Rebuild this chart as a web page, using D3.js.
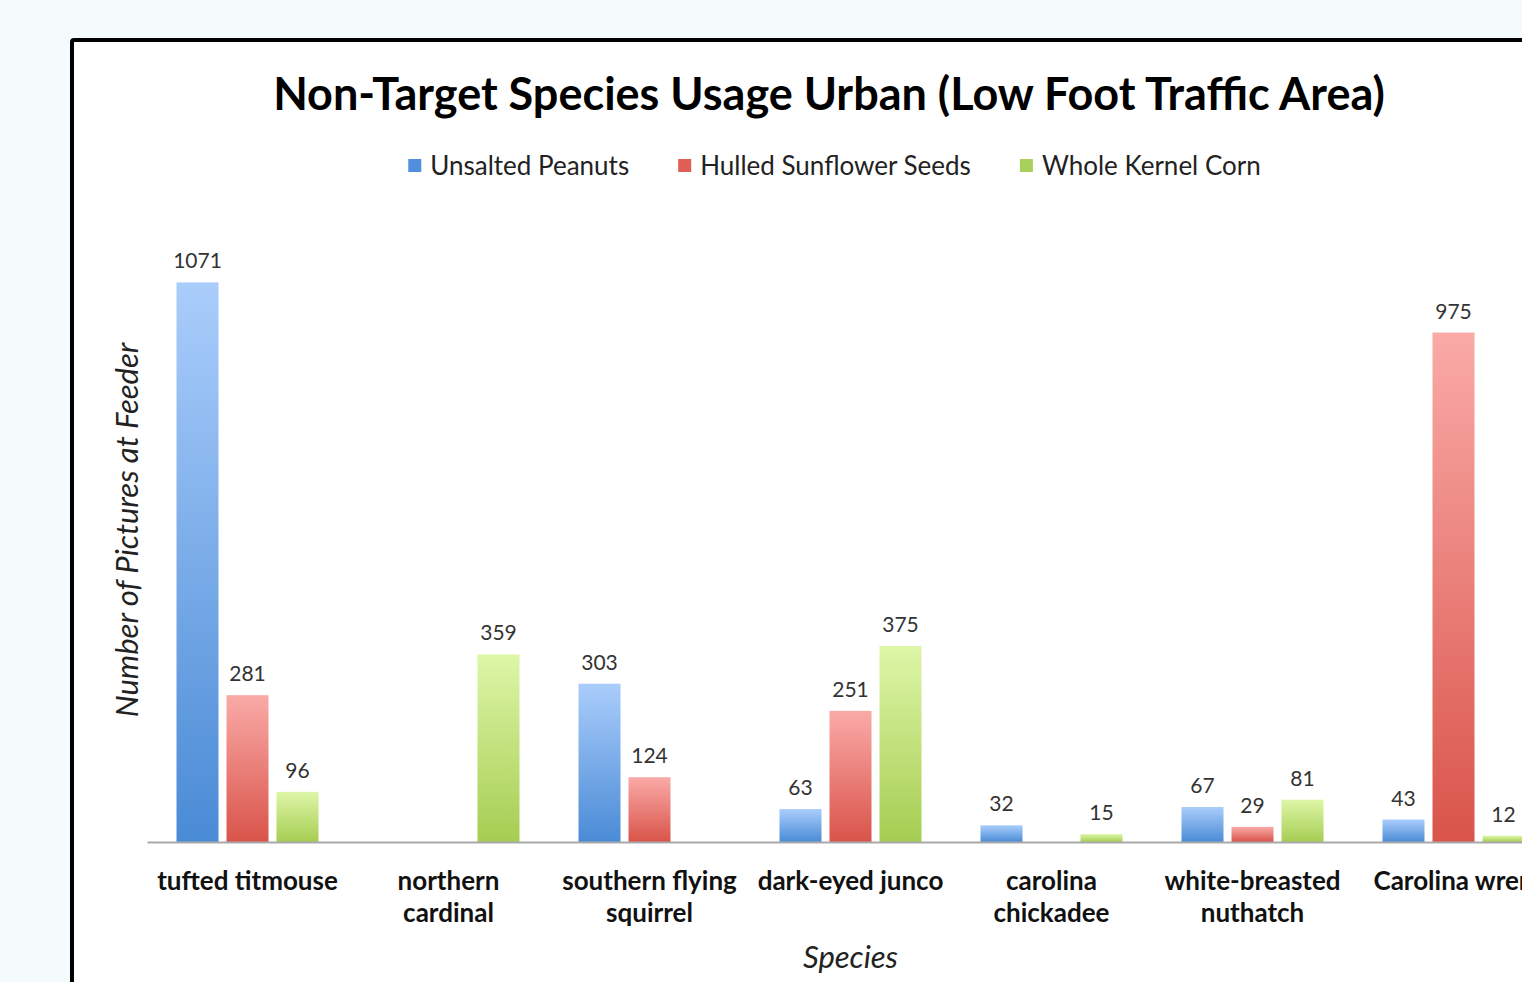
<!DOCTYPE html>
<html>
<head>
<meta charset="utf-8">
<script src="https://cdn.jsdelivr.net/npm/d3@7"></script>
<style>
  html, body { margin: 0; padding: 0; background: #f5fafd; overflow: hidden; }
  svg { display: block; }
</style>
</head>
<body>
<svg id="chart" width="1522" height="982"></svg>
<script>
// ---- data ----
const categories = [
  ["tufted titmouse"],
  ["northern", "cardinal"],
  ["southern flying", "squirrel"],
  ["dark-eyed junco"],
  ["carolina", "chickadee"],
  ["white-breasted", "nuthatch"],
  ["Carolina wren"]
];
const seriesNames = ["Unsalted Peanuts", "Hulled Sunflower Seeds", "Whole Kernel Corn"];
const unsaltedPeanuts = [1071, null, 303, 63, 32, 67, 43];
const hulledSunflowerSeeds = [281, null, 124, 251, null, 29, 975];
const wholeKernelCorn = [96, 359, null, 375, 15, 81, 12];
const seriesValues = [unsaltedPeanuts, hulledSunflowerSeeds, wholeKernelCorn];

const titleText = "Non-Target Species Usage Urban (Low Foot Traffic Area)";
const xTitle = "Species";
const yTitle = "Number of Pictures at Feeder";

// ---- styles ----
const gradStops = [
  ["#aacdfb", "#4a8bd6"],
  ["#faaaa7", "#d9544a"],
  ["#def6a8", "#a6cd52"]
];
const legendColors = ["#4f8fdb", "#df5e55", "#a9d05a"];
const FONT = "Lato, 'Open Sans', sans-serif";

const svg = d3.select("#chart");
const defs = svg.append("defs");
gradStops.forEach((s, i) => {
  const g = defs.append("linearGradient").attr("id", "g" + i)
    .attr("x1", 0).attr("y1", 0).attr("x2", 0).attr("y2", 1);
  g.append("stop").attr("offset", "0%").attr("stop-color", s[0]);
  g.append("stop").attr("offset", "100%").attr("stop-color", s[1]);
});

// frame
svg.append("rect").attr("x", 72).attr("y", 40).attr("width", 1600).attr("height", 1000)
  .attr("rx", 2).attr("fill", "#ffffff").attr("stroke", "#000").attr("stroke-width", 4);

// layout
const plotLeft = 147, plotRight = 1554, baseY = 842, topY = 215;

const x0 = d3.scaleBand().domain(d3.range(categories.length))
  .range([plotLeft, plotRight]).paddingInner(0.2935).paddingOuter(0.14675);
const x1 = d3.scaleBand().domain(d3.range(seriesNames.length))
  .range([0, x0.bandwidth()]).paddingInner(0.16);
const y = d3.scaleLinear().domain([0, 1200]).range([baseY, topY]);

// bars
const groups = svg.append("g").selectAll("g").data(categories).join("g")
  .attr("transform", (d, i) => `translate(${x0(i)},0)`);

groups.each(function (cat, ci) {
  const g = d3.select(this);
  const vals = seriesValues.map((arr, si) => ({ si, v: arr[ci] })).filter(d => d.v != null);
  g.selectAll("rect").data(vals).join("rect")
    .attr("x", d => x1(d.si))
    .attr("width", x1.bandwidth())
    .attr("y", d => y(d.v))
    .attr("height", d => baseY - y(d.v))
    .attr("fill", d => `url(#g${d.si})`);
  g.selectAll("text").data(vals).join("text")
    .attr("x", d => x1(d.si) + x1.bandwidth() / 2)
    .attr("y", d => y(d.v) - 14)
    .attr("text-anchor", "middle")
    .attr("font-family", FONT).attr("font-size", 21).attr("fill", "#333")
    .text(d => d.v);
});

// x axis
const xAxis = d3.axisBottom(x0).tickSize(0).tickFormat("");
const axG = svg.append("g").attr("transform", `translate(0,${baseY})`).call(xAxis);
axG.select(".domain").attr("stroke", "#a9a9a9").attr("stroke-width", 2);

// category labels
svg.append("g").selectAll("text").data(categories).join("text")
  .attr("x", (d, i) => x0(i) + x0.bandwidth() / 2)
  .attr("y", 890)
  .attr("text-anchor", "middle")
  .attr("font-family", FONT).attr("font-weight", "bold").attr("font-size", 26).attr("fill", "#111")
  .each(function (lines) {
    const t = d3.select(this);
    lines.forEach((l, k) => {
      t.append("tspan").attr("x", t.attr("x")).attr("dy", k === 0 ? 0 : 32).text(l);
    });
  });

// title
svg.append("text").attr("x", 829).attr("y", 110).attr("text-anchor", "middle")
  .attr("font-family", FONT).attr("font-weight", "bold").attr("font-size", 45).attr("fill", "#000")
  .text(titleText);

// axis titles
svg.append("text").attr("x", (plotLeft + plotRight) / 2).attr("y", 968).attr("text-anchor", "middle")
  .attr("font-family", FONT).attr("font-style", "italic").attr("font-size", 31).attr("fill", "#222")
  .text(xTitle);
svg.append("text").attr("transform", "translate(138,530) rotate(-90)").attr("text-anchor", "middle")
  .attr("font-family", FONT).attr("font-style", "italic").attr("font-size", 31).attr("fill", "#222")
  .text(yTitle);

// legend
const leg = svg.append("g");
let lx = 0;
seriesNames.forEach((name, i) => {
  const it = leg.append("g").attr("transform", `translate(${lx},0)`);
  it.append("rect").attr("x", 0).attr("y", -16).attr("width", 13).attr("height", 13).attr("fill", legendColors[i]);
  const t = it.append("text").attr("x", 22).attr("y", 0)
    .attr("font-family", FONT).attr("font-size", 26).attr("fill", "#222").text(name);
  const w = t.node().getComputedTextLength();
  lx += 22 + w + 49;
});
const legW = lx - 49;
leg.attr("transform", `translate(${834.5 - legW / 2},175)`);
</script>
</body>
</html>
